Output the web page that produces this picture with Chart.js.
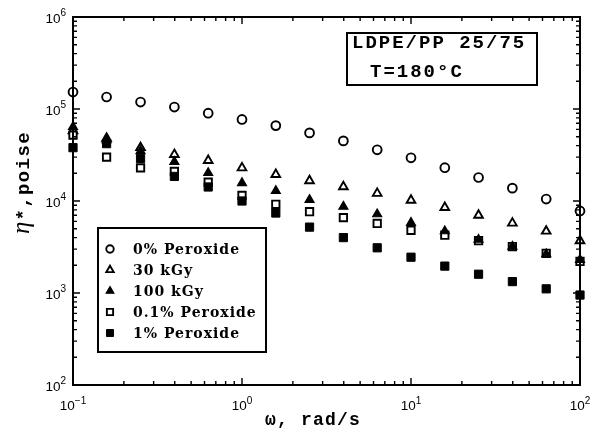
<!DOCTYPE html>
<html><head><meta charset="utf-8">
<script src="https://cdn.jsdelivr.net/npm/chart.js@4.4.1/dist/chart.umd.min.js"></script>
<style>html,body{margin:0;padding:0;background:#fff}#wrap{width:593px;height:430px;position:relative}</style>
</head><body><div id="wrap"><canvas id="c" width="593" height="430"></canvas></div>
<script>
// ---- data ----
const omega      = [0.1, 0.158, 0.251, 0.398, 0.631, 1, 1.585, 2.51, 3.98, 6.31, 10, 15.85, 25.1, 39.8, 63.1, 100];
const peroxide0  = [153000, 135000, 119000, 105000, 90000, 77000, 66000, 55000, 45000, 36000, 29500, 23000, 18000, 13800, 10500, 7800];
const kGy30      = [58000, 48000, 38000, 32000, 27600, 22900, 19400, 16600, 14300, 12100, 10200, 8500, 7000, 5750, 4700, 3700];
const kGy100     = [64000, 46000, 35000, 26700, 20200, 15700, 12900, 10300, 8700, 7200, 5800, 4700, 3800, 3200, 2650, 2300];
const peroxide01 = [52000, 30000, 22900, 21000, 16000, 11500, 9200, 7650, 6600, 5700, 4800, 4250, 3700, 3200, 2700, 2200];
const peroxide1  = [38000, 42000, 29000, 18500, 14200, 10000, 7400, 5200, 4000, 3100, 2450, 1960, 1600, 1330, 1110, 950];
const seriesLabels = ['0% Peroxide', '30 kGy', '100 kGy', '0.1% Peroxide', '1% Peroxide'];
const xTickValues = [0.1, 1, 10, 100];
const xTickExps   = ['\u22121', '0', '1', '2'];
const yTickValues = [100, 1000, 10000, 100000, 1000000];
const yTickExps   = ['2', '3', '4', '5', '6'];
const boxLines = ['LDPE/PP 25/75', 'T=180\u00B0C'];
const xTitle = '\u03C9, rad/s';
const yTitleSymbol = '\u03B7';
const yTitleRest = '*,poise';

// ---- styles ----
const seriesValues = [peroxide0, kGy30, kGy100, peroxide01, peroxide1];
const styles = [
  {pointStyle: 'circle',   radius: 4.4, fill: '#ffffff', bw: 1.9},
  {pointStyle: 'triangle', radius: 5.0, fill: '#ffffff', bw: 1.9},
  {pointStyle: 'triangle', radius: 5.2, fill: '#000000', bw: 1.2},
  {pointStyle: 'rect',     radius: 5.2, fill: '#ffffff', bw: 1.9},
  {pointStyle: 'rect',     radius: 5.8, fill: '#000000', bw: 1.0}
];
const drawOrder = [5, 4, 1, 3, 2];

const datasets = seriesValues.map((vals, i) => ({
  label: seriesLabels[i],
  data: omega.map((x, j) => ({x: x, y: vals[j]})),
  showLine: false,
  pointStyle: styles[i].pointStyle,
  pointRadius: styles[i].radius,
  pointHoverRadius: styles[i].radius,
  pointBackgroundColor: styles[i].fill,
  pointBorderColor: '#000000',
  pointBorderWidth: styles[i].bw,
  clip: false,
  order: drawOrder[i]
}));

function setLS(ctx, v) { if ('letterSpacing' in ctx) ctx.letterSpacing = v; }

const decorPlugin = {
  id: 'decor',
  afterDraw(chart) {
    const ctx = chart.ctx, ca = chart.chartArea;
    const xs = chart.scales.x, ys = chart.scales.y;
    ctx.save();
    ctx.strokeStyle = '#000'; ctx.fillStyle = '#000';
    // frame
    ctx.lineWidth = 2;
    ctx.strokeRect(ca.left, ca.top, ca.right - ca.left, ca.bottom - ca.top);
    // inward ticks
    ctx.lineWidth = 1.4;
    const maj = 7, mnr = 4;
    ctx.beginPath();
    for (let d = -1; d <= 2; d++) {
      for (let k = 1; k <= 9; k++) {
        const v = k * Math.pow(10, d);
        if (v < 0.1 - 1e-9 || v > 100 + 1e-9) continue;
        const px = xs.getPixelForValue(v);
        const len = k === 1 ? maj : mnr;
        ctx.moveTo(px, ca.bottom); ctx.lineTo(px, ca.bottom - len);
        ctx.moveTo(px, ca.top); ctx.lineTo(px, ca.top + len);
      }
    }
    for (let d = 2; d <= 6; d++) {
      for (let k = 1; k <= 9; k++) {
        const v = k * Math.pow(10, d);
        if (v > 1e6 + 1) continue;
        const py = ys.getPixelForValue(v);
        const len = k === 1 ? maj : mnr;
        ctx.moveTo(ca.left, py); ctx.lineTo(ca.left + len, py);
        ctx.moveTo(ca.right, py); ctx.lineTo(ca.right - len, py);
      }
    }
    ctx.stroke();

    // tick labels (10 with superscript exponent)
    const bigF = '13.5px "Liberation Sans", Arial, sans-serif';
    const supF = '10px "Liberation Sans", Arial, sans-serif';
    ctx.textBaseline = 'alphabetic'; ctx.textAlign = 'left';
    yTickValues.forEach((v, i) => {
      const py = ys.getPixelForValue(v);
      ctx.font = supF; const we = ctx.measureText(yTickExps[i]).width;
      ctx.font = bigF; const wb = ctx.measureText('10').width;
      const right = ca.left - 7;
      ctx.fillText('10', right - we - wb, py + 6);
      ctx.font = supF; ctx.fillText(yTickExps[i], right - we, py - 1);
    });
    xTickValues.forEach((v, i) => {
      const px = xs.getPixelForValue(v);
      ctx.font = supF; const we = ctx.measureText(xTickExps[i]).width;
      ctx.font = bigF; const wb = ctx.measureText('10').width;
      const left = px - (we + wb) / 2;
      ctx.fillText('10', left, ca.bottom + 25);
      ctx.font = supF; ctx.fillText(xTickExps[i], left + wb, ca.bottom + 19);
    });

    // x title
    ctx.font = 'bold 18px "Liberation Mono", "Courier New", monospace';
    setLS(ctx, '1.2px');
    ctx.textAlign = 'center';
    ctx.fillText(xTitle, 313, 425);
    // y title (rotated)
    ctx.save();
    ctx.translate(29, 183);
    ctx.rotate(-Math.PI / 2);
    setLS(ctx, '0px');
    ctx.font = 'italic 25px "Liberation Serif", serif';
    const wEta = ctx.measureText(yTitleSymbol).width;
    ctx.font = 'bold 19px "Liberation Mono", monospace';
    setLS(ctx, '1.4px');
    const wRest = ctx.measureText(yTitleRest).width;
    const start = -(wEta + wRest) / 2;
    ctx.textAlign = 'left';
    setLS(ctx, '0px');
    ctx.font = 'italic 25px "Liberation Serif", serif';
    ctx.fillText(yTitleSymbol, start, 0);
    ctx.font = 'bold 19px "Liberation Mono", monospace';
    setLS(ctx, '1.4px');
    ctx.fillText(yTitleRest, start + wEta + 1, 0);
    ctx.restore();

    // annotation box
    setLS(ctx, '0px');
    ctx.lineWidth = 2;
    ctx.strokeRect(347, 33, 190, 52);
    ctx.textAlign = 'left';
    ctx.font = 'bold 19px "Liberation Mono", "Courier New", monospace';
    setLS(ctx, '2px');
    ctx.fillText(boxLines[0], 352, 48);
    ctx.fillText(boxLines[1], 370, 77);

    // legend
    setLS(ctx, '0px');
    ctx.lineWidth = 2;
    ctx.strokeRect(98, 228, 168, 124);
    ctx.font = 'bold 14px "DejaVu Serif", serif';
    setLS(ctx, '1px');
    ctx.textBaseline = 'middle';
    seriesLabels.forEach((lab, i) => {
      const y = 249 + i * 21;
      const st = styles[i];
      ctx.fillStyle = st.fill; ctx.strokeStyle = '#000'; ctx.lineWidth = st.bw;
      Chart.helpers.drawPoint(ctx, {pointStyle: st.pointStyle, radius: st.radius * 0.85, rotation: 0, borderWidth: st.bw}, 110, y);
      ctx.fillStyle = '#000';
      ctx.fillText(lab, 133, y + 1);
    });
    ctx.restore();
  }
};

new Chart(document.getElementById('c'), {
  type: 'scatter',
  data: {datasets: datasets},
  options: {
    responsive: false,
    devicePixelRatio: 1,
    animation: false,
    events: [],
    layout: {padding: {top: 17, right: 13, left: 0, bottom: 0}},
    plugins: {legend: {display: false}, tooltip: {enabled: false}, title: {display: false}},
    scales: {
      x: {
        type: 'logarithmic', min: 0.1, max: 100,
        grid: {display: false}, border: {display: false},
        ticks: {display: false},
        afterFit: s => { s.height = 45; }
      },
      y: {
        type: 'logarithmic', min: 100, max: 1000000,
        grid: {display: false}, border: {display: false},
        ticks: {display: false},
        afterFit: s => { s.width = 73; }
      }
    }
  },
  plugins: [decorPlugin]
});
</script>
</body></html>
